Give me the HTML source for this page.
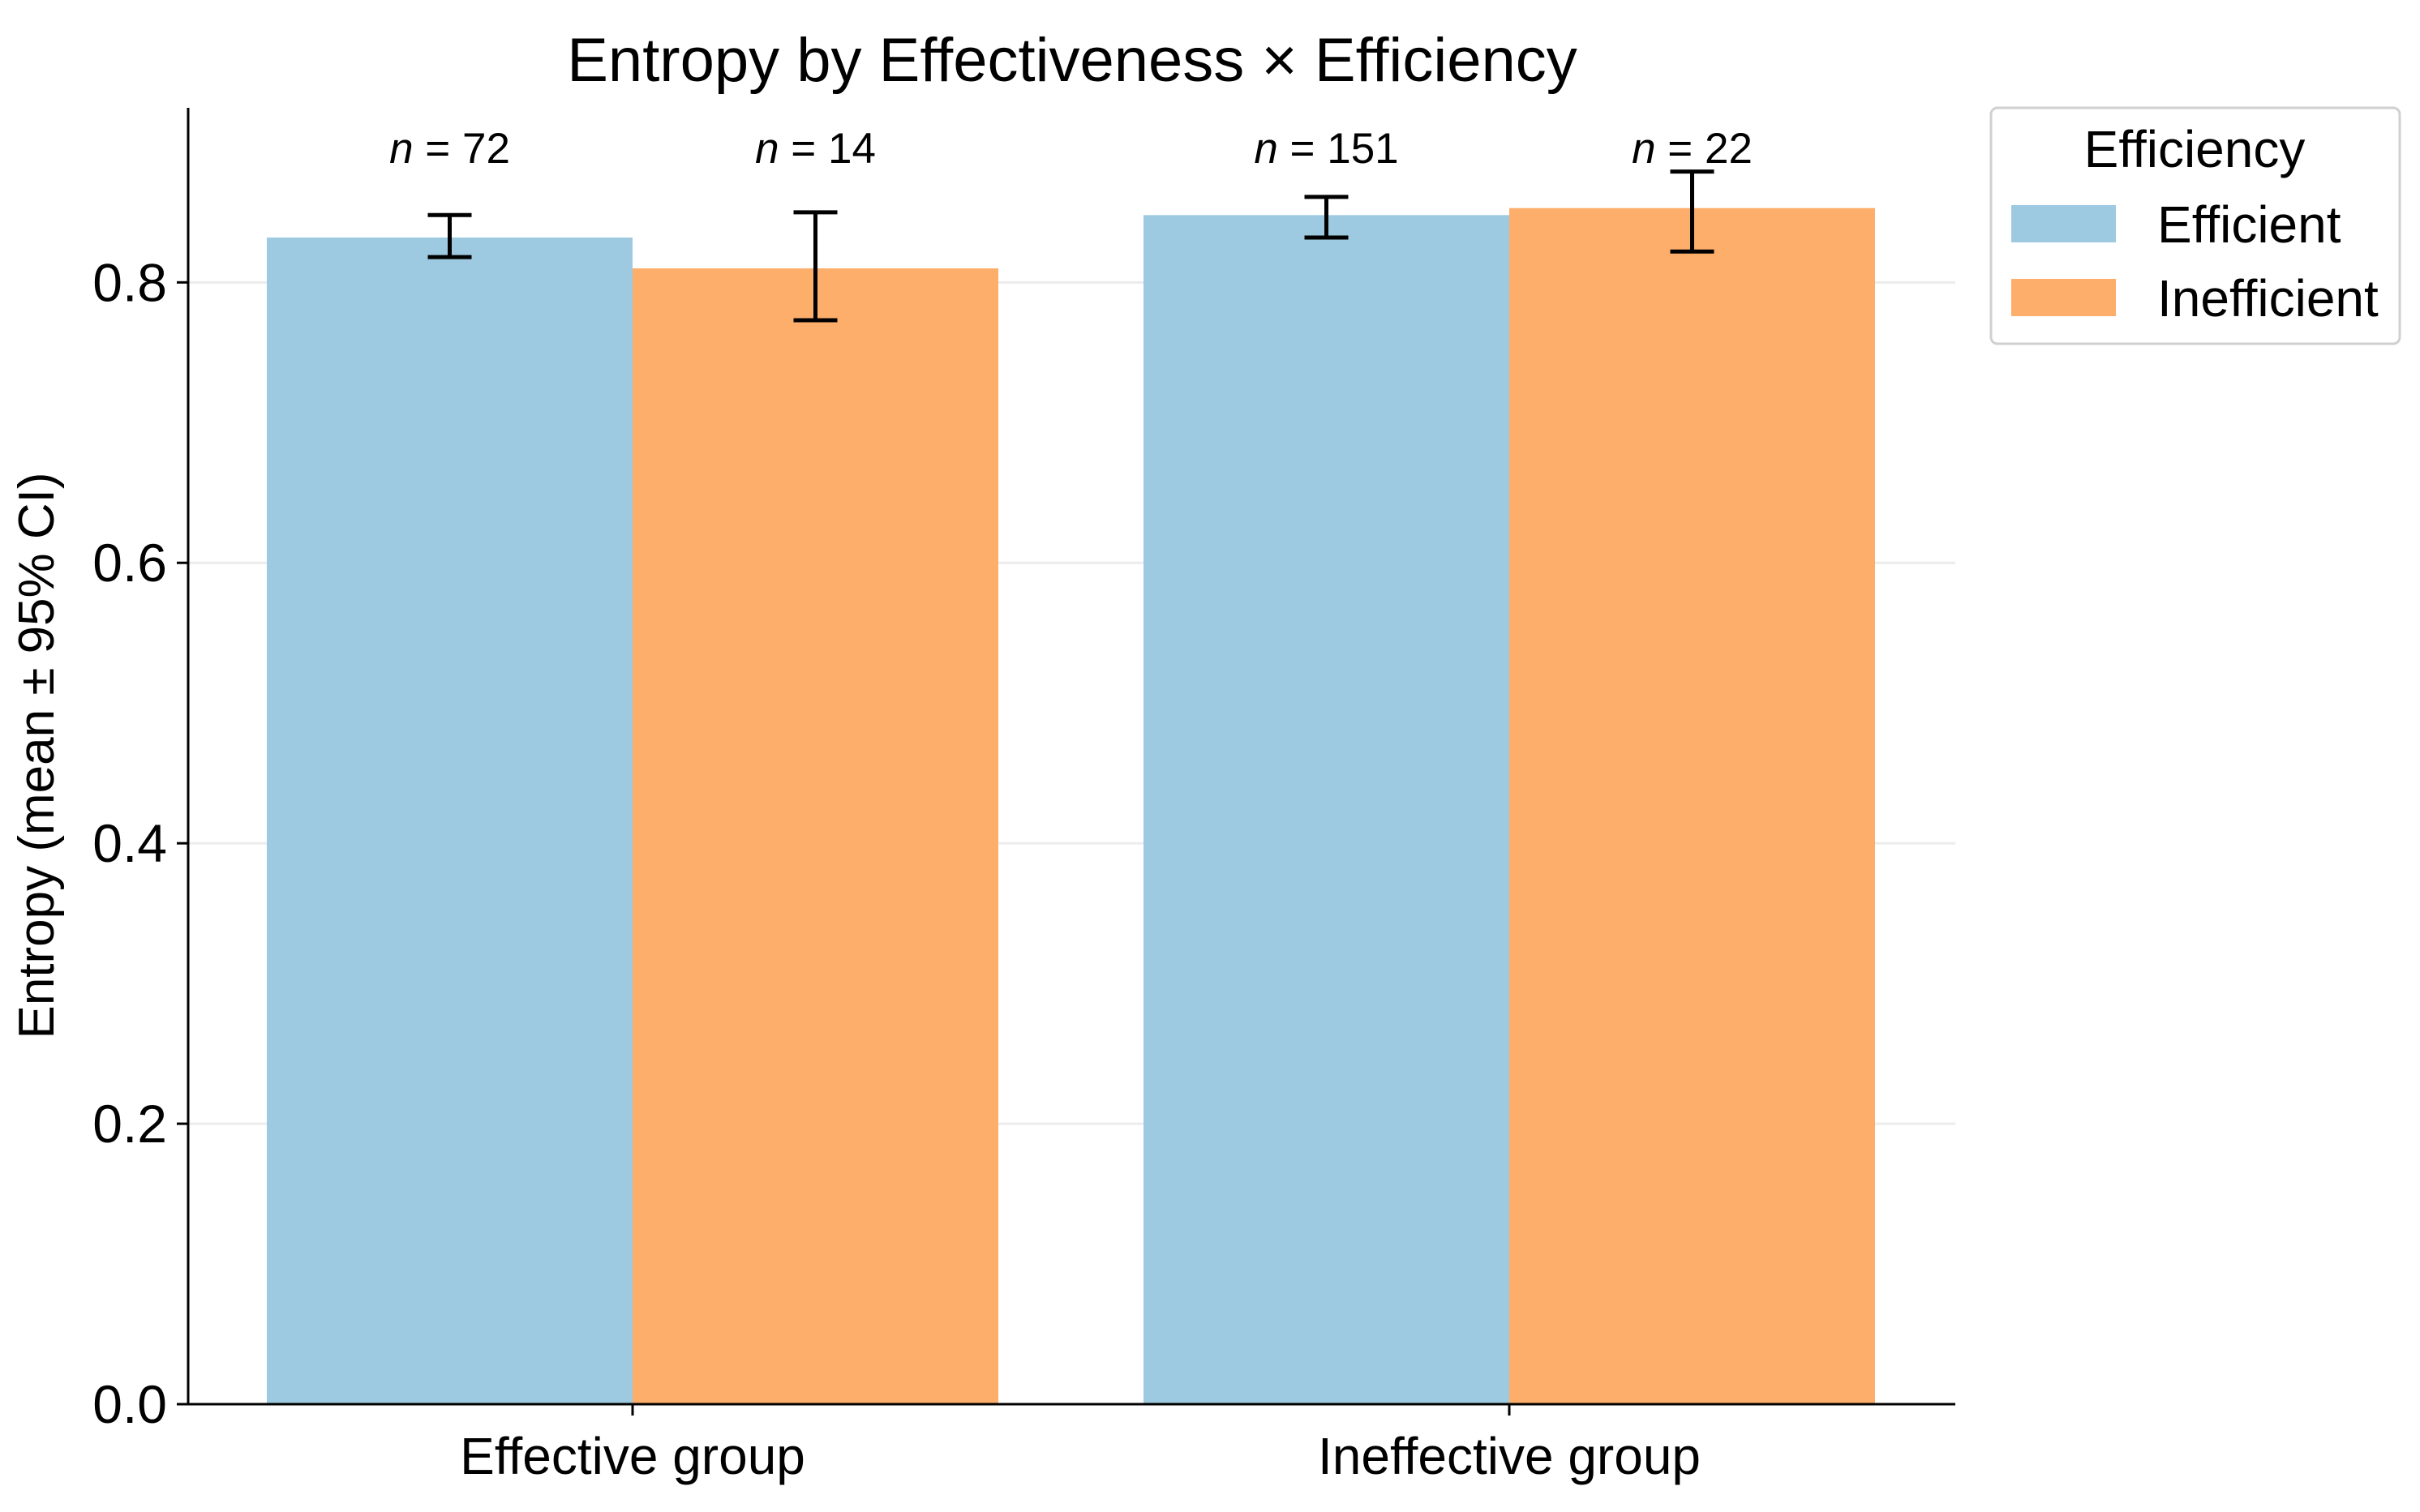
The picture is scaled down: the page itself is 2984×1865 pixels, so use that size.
<!DOCTYPE html>
<html><head><meta charset="utf-8"><style>
html,body{margin:0;padding:0;background:#fff;}
svg{display:block;font-family:"Liberation Sans",Arial,sans-serif;}
</style></head><body>
<svg id="chart" width="2984" height="1865" viewBox="0 0 2984 1865">
<g id="grid"></g><g id="bars"></g><g id="errs"></g><g id="axes"></g><g id="labels"></g>
<text x="1322" y="100" font-size="76" text-anchor="middle" fill="#000">Entropy by Effectiveness × Efficiency</text>
<text transform="translate(66,932) rotate(-90)" font-size="62" text-anchor="middle" fill="#000">Entropy (mean ± 95% CI)</text>
<g>
<rect x="2455" y="133" width="504" height="291" rx="8" fill="#fff" stroke="#d0d0d0" stroke-width="3"/>
<text x="2706" y="206" font-size="64" text-anchor="middle">Efficiency</text>
<rect x="2480" y="253" width="129" height="46" fill="#9ecae1"/>
<text x="2660" y="299" font-size="64">Efficient</text>
<rect x="2480" y="344" width="129" height="46" fill="#fdae6b"/>
<text x="2660" y="390" font-size="64">Inefficient</text>
</g>
</svg>
<script>
const categories = ["Effective group", "Ineffective group"];
const seriesNames = ["Efficient", "Inefficient"];
const efficientMeans = [0.832, 0.848];
const inefficientMeans = [0.810, 0.853];
const efficientLo = [0.818, 0.832];
const efficientHi = [0.848, 0.861];
const inefficientLo = [0.773, 0.822];
const inefficientHi = [0.850, 0.879];
const counts = [[72, 14], [151, 22]];
const yTicks = [0.0, 0.2, 0.4, 0.6, 0.8];
const yTickLabels = ["0.0", "0.2", "0.4", "0.6", "0.8"];

const NS = "http://www.w3.org/2000/svg";
const plotLeft = 232, plotRight = 2411, plotBottom = 1732, plotTop = 133, pxPerUnit = 1729.6;
const groupCenters = [780, 1861], barW = 451;
const colors = ["#9ecae1", "#fdae6b"];
function yScale(v){ return plotBottom - v * pxPerUnit; }
function xc(gi){ return groupCenters[gi]; }
function mk(tag, attrs, parent){ const e=document.createElementNS(NS,tag); for(const k in attrs) e.setAttribute(k,attrs[k]); parent.appendChild(e); return e; }
const grid=document.getElementById('grid'), bars=document.getElementById('bars'), errs=document.getElementById('errs'), axes=document.getElementById('axes'), labels=document.getElementById('labels');

yTicks.forEach((t,i)=>{
  const g = mk('line',{x1:plotLeft,x2:plotRight,y1:yScale(t),y2:yScale(t),stroke:'#ececec','stroke-width':3},grid);
  
  
  const tk = mk('line',{x1:plotLeft-14,x2:plotLeft,y1:yScale(t),y2:yScale(t),stroke:'#000','stroke-width':3},axes);
  
  
  const tl = mk('text',{x:plotLeft-26,y:yScale(t)+23,'font-size':66,'text-anchor':'end'},axes);
  tl.textContent = yTickLabels[i];
  
  
});

const means=[efficientMeans,inefficientMeans], los=[efficientLo,inefficientLo], his=[efficientHi,inefficientHi];
categories.forEach((c,gi)=>{
  for(let s=0;s<2;s++){
    const x0 = xc(gi) - barW + s*barW;
    const b = mk('rect',{x:x0,y:yScale(means[s][gi]),width:barW,height:yScale(0)-yScale(means[s][gi]),fill:colors[s]},bars);
    
    
    const cx = x0 + barW/2;
    const eg = mk('g',{stroke:'#000','stroke-width':5},errs);
    
    
    mk('line',{x1:cx,x2:cx,y1:yScale(los[s][gi]),y2:yScale(his[s][gi])},eg);
    mk('line',{x1:cx-27,x2:cx+27,y1:yScale(los[s][gi]),y2:yScale(los[s][gi])},eg);
    mk('line',{x1:cx-27,x2:cx+27,y1:yScale(his[s][gi]),y2:yScale(his[s][gi])},eg);
    const nt = mk('text',{x:cx,y:201,'font-size':53,'text-anchor':'middle'},labels);
    const it = mk('tspan',{'font-style':'italic'},nt);
    it.textContent = 'n';
    nt.appendChild(document.createTextNode(' = '+counts[gi][s]));
    
    
  }
  const xt = mk('line',{x1:xc(gi),x2:xc(gi),y1:plotBottom,y2:plotBottom+14,stroke:'#000','stroke-width':3},axes);
  
  
  const xl = mk('text',{x:xc(gi),y:1818,'font-size':64,'text-anchor':'middle'},axes);
  xl.textContent = c;
  
  
});
const ya = mk('line',{x1:plotLeft,x2:plotLeft,y1:plotTop,y2:plotBottom+1,stroke:'#000','stroke-width':3},axes);


const xa = mk('line',{x1:plotLeft-1,x2:plotRight,y1:plotBottom,y2:plotBottom,stroke:'#000','stroke-width':3},axes);


</script>
</body></html>
